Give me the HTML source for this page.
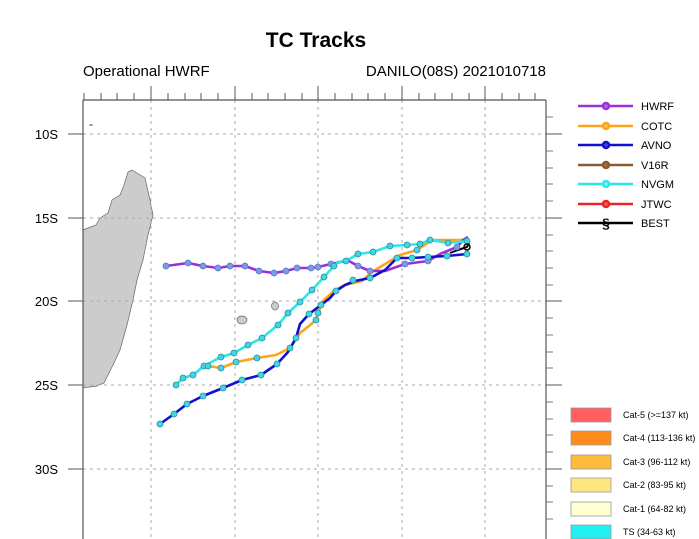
<!DOCTYPE html>
<html><head><style>
html,body{margin:0;padding:0;background:#fff;}
svg{display:block;font-family:"Liberation Sans",Arial,sans-serif;}
</style></head><body>
<svg width="699" height="539" viewBox="0 0 699 539" xmlns="http://www.w3.org/2000/svg">
<text x="316" y="47" font-size="21" font-weight="bold" text-anchor="middle">TC Tracks</text>
<text x="83" y="76" font-size="15">Operational HWRF</text>
<text x="546" y="76" font-size="15" text-anchor="end">DANILO(08S) 2021010718</text>
<!-- map land -->
<polygon fill="#cccccc" stroke="#666" stroke-width="0.7" points="83,230 88,228 96,225 100,218 108,213 112,200 120,195 124,185 128,172 132,170 145,178 150,200 153,215 148,235 143,260 137,280 133,300 127,325 120,350 113,365 104,383 97,386 83,388"/>
<ellipse cx="242" cy="320" rx="5" ry="4" fill="#ccc" stroke="#666" stroke-width="0.7"/>
<ellipse cx="275" cy="306" rx="3.5" ry="4" fill="#ccc" stroke="#666" stroke-width="0.7"/>
<ellipse cx="91" cy="125" rx="2" ry="1" fill="#999"/>
<!-- grid -->
<g stroke="#aaa" stroke-width="1" stroke-dasharray="3,4">
<line x1="151" y1="100" x2="151" y2="539"/><line x1="235" y1="100" x2="235" y2="539"/>
<line x1="318" y1="100" x2="318" y2="539"/><line x1="402" y1="100" x2="402" y2="539"/>
<line x1="485" y1="100" x2="485" y2="539"/>
<line x1="83" y1="134" x2="546" y2="134"/><line x1="83" y1="218" x2="546" y2="218"/>
<line x1="83" y1="301" x2="546" y2="301"/><line x1="83" y1="385" x2="546" y2="385"/>
<line x1="83" y1="469" x2="546" y2="469"/>
</g>
<!-- frame -->
<g stroke="#555" stroke-width="1.2" fill="none">
<line x1="83" y1="100" x2="546" y2="100"/>
<line x1="83" y1="100" x2="83" y2="539"/>
<line x1="546" y1="100" x2="546" y2="539"/>
</g>
<g stroke="#555" stroke-width="1">
<!-- top ticks -->
<line x1="151" y1="86" x2="151" y2="100"/><line x1="235" y1="86" x2="235" y2="100"/><line x1="318" y1="86" x2="318" y2="100"/><line x1="402" y1="86" x2="402" y2="100"/><line x1="485" y1="86" x2="485" y2="100"/>
<line x1="84" y1="93" x2="84" y2="100"/><line x1="101" y1="93" x2="101" y2="100"/><line x1="117" y1="93" x2="117" y2="100"/><line x1="134" y1="93" x2="134" y2="100"/>
<line x1="168" y1="93" x2="168" y2="100"/><line x1="185" y1="93" x2="185" y2="100"/><line x1="201" y1="93" x2="201" y2="100"/><line x1="218" y1="93" x2="218" y2="100"/>
<line x1="252" y1="93" x2="252" y2="100"/><line x1="268" y1="93" x2="268" y2="100"/><line x1="285" y1="93" x2="285" y2="100"/><line x1="302" y1="93" x2="302" y2="100"/>
<line x1="335" y1="93" x2="335" y2="100"/><line x1="352" y1="93" x2="352" y2="100"/><line x1="368" y1="93" x2="368" y2="100"/><line x1="385" y1="93" x2="385" y2="100"/>
<line x1="419" y1="93" x2="419" y2="100"/><line x1="435" y1="93" x2="435" y2="100"/><line x1="452" y1="93" x2="452" y2="100"/><line x1="469" y1="93" x2="469" y2="100"/>
<line x1="502" y1="93" x2="502" y2="100"/><line x1="519" y1="93" x2="519" y2="100"/><line x1="535" y1="93" x2="535" y2="100"/>
<!-- left/right major -->
<line x1="68" y1="134" x2="83" y2="134"/><line x1="68" y1="218" x2="83" y2="218"/><line x1="68" y1="301" x2="83" y2="301"/><line x1="68" y1="385" x2="83" y2="385"/><line x1="68" y1="469" x2="83" y2="469"/>
<line x1="546" y1="134" x2="562" y2="134"/><line x1="546" y1="218" x2="562" y2="218"/><line x1="546" y1="301" x2="562" y2="301"/><line x1="546" y1="385" x2="562" y2="385"/><line x1="546" y1="469" x2="562" y2="469"/>
</g>
<g stroke="#777" stroke-width="1">
<line x1="546" y1="117" x2="553" y2="117"/><line x1="546" y1="151" x2="553" y2="151"/><line x1="546" y1="168" x2="553" y2="168"/><line x1="546" y1="184" x2="553" y2="184"/><line x1="546" y1="201" x2="553" y2="201"/>
<line x1="546" y1="235" x2="553" y2="235"/><line x1="546" y1="251" x2="553" y2="251"/><line x1="546" y1="268" x2="553" y2="268"/><line x1="546" y1="285" x2="553" y2="285"/>
<line x1="546" y1="318" x2="553" y2="318"/><line x1="546" y1="335" x2="553" y2="335"/><line x1="546" y1="352" x2="553" y2="352"/><line x1="546" y1="368" x2="553" y2="368"/>
<line x1="546" y1="402" x2="553" y2="402"/><line x1="546" y1="419" x2="553" y2="419"/><line x1="546" y1="435" x2="553" y2="435"/><line x1="546" y1="452" x2="553" y2="452"/>
<line x1="546" y1="486" x2="553" y2="486"/><line x1="546" y1="502" x2="553" y2="502"/><line x1="546" y1="519" x2="553" y2="519"/>
</g>
<g font-size="13" text-anchor="end">
<text x="58" y="139">10S</text><text x="58" y="223">15S</text><text x="58" y="306">20S</text><text x="58" y="390">25S</text><text x="58" y="474">30S</text>
</g>
<!-- tracks -->
<g fill="none" stroke-width="2.6" stroke-linejoin="round">
<polyline stroke="#ffa31a" points="208,366 221,368 236,362 257,358 276,355 290,348 300,333 309,326 316,320 318,313 323,301 335,290 345,285 362,281 372,272 400,255 417,250 432,240 447,240 467,240"/>
<polyline stroke="#9b30d9" points="166,266 188,263 203,266 218,268 230,266 245,266 259,271 274,273 286,271 297,268 311,268 318,267 331,264 345,261 349,261 358,266 370,271 385,271 405,264 428,261 440,254 457,247 463,240 468,237"/>
<polyline stroke="#2ee6e6" points="176,385 183,378 193,375 204,366 221,357 234,353 248,345 262,338 278,325 288,313 300,302 312,290 324,277 334,266 338,262 346,261 358,254 373,252 390,246 407,245 420,244 430,240 448,243 467,241"/>
<polyline stroke="#1010d0" points="160,424 174,414 187,404 203,396 223,388 242,380 261,375 277,364 288,352 296,338 300,324 309,314 321,305 330,298 336,291 345,285 355,281 370,278 385,270 397,258 412,258 428,257 447,256 467,254"/>
<polyline stroke="#000" stroke-width="2" points="450,253 458,250 467,247 469,243"/>
</g>
<g fill="#7a9be0" stroke="#5577cc" stroke-width="0.8">
<circle cx="166" cy="266" r="3"/><circle cx="188" cy="263" r="3"/><circle cx="203" cy="266" r="3"/><circle cx="218" cy="268" r="3"/><circle cx="230" cy="266" r="3"/><circle cx="245" cy="266" r="3"/><circle cx="259" cy="271" r="3"/><circle cx="274" cy="273" r="3"/><circle cx="286" cy="271" r="3"/><circle cx="297" cy="268" r="3"/><circle cx="311" cy="268" r="3"/><circle cx="318" cy="267" r="3"/><circle cx="331" cy="264" r="3"/><circle cx="358" cy="266" r="3"/><circle cx="370" cy="271" r="3"/><circle cx="405" cy="264" r="3"/><circle cx="428" cy="261" r="3"/><circle cx="457" cy="247" r="3"/>
</g>
<g fill="#40d8e0" stroke="#2a8aa0" stroke-width="0.8">
<circle cx="160" cy="424" r="3"/><circle cx="174" cy="414" r="3"/><circle cx="187" cy="404" r="3"/><circle cx="203" cy="396" r="3"/><circle cx="223" cy="388" r="3"/><circle cx="242" cy="380" r="3"/><circle cx="261" cy="375" r="3"/><circle cx="277" cy="364" r="3"/><circle cx="296" cy="338" r="3"/><circle cx="309" cy="314" r="3"/><circle cx="321" cy="305" r="3"/><circle cx="336" cy="291" r="3"/><circle cx="353" cy="280" r="3"/><circle cx="370" cy="278" r="3"/><circle cx="397" cy="258" r="3"/><circle cx="412" cy="258" r="3"/><circle cx="428" cy="257" r="3"/><circle cx="447" cy="256" r="3"/><circle cx="467" cy="254" r="3"/>
<circle cx="176" cy="385" r="3"/><circle cx="183" cy="378" r="3"/><circle cx="193" cy="375" r="3"/><circle cx="204" cy="366" r="3"/><circle cx="221" cy="357" r="3"/><circle cx="234" cy="353" r="3"/><circle cx="248" cy="345" r="3"/><circle cx="262" cy="338" r="3"/><circle cx="278" cy="325" r="3"/><circle cx="288" cy="313" r="3"/><circle cx="300" cy="302" r="3"/><circle cx="312" cy="290" r="3"/><circle cx="324" cy="277" r="3"/><circle cx="334" cy="266" r="3"/><circle cx="346" cy="261" r="3"/><circle cx="358" cy="254" r="3"/><circle cx="373" cy="252" r="3"/><circle cx="390" cy="246" r="3"/><circle cx="407" cy="245" r="3"/><circle cx="420" cy="244" r="3"/><circle cx="430" cy="240" r="3"/><circle cx="448" cy="243" r="3"/><circle cx="467" cy="241" r="3"/>
<circle cx="208" cy="366" r="3"/><circle cx="221" cy="368" r="3"/><circle cx="236" cy="362" r="3"/><circle cx="257" cy="358" r="3"/><circle cx="290" cy="348" r="3"/><circle cx="316" cy="320" r="3"/><circle cx="318" cy="313" r="3"/><circle cx="417" cy="250" r="3"/>
</g>
<circle cx="467" cy="247" r="3" fill="none" stroke="#000" stroke-width="1.5"/>
<!-- legend -->
<g stroke-width="2.5">
<line x1="578" y1="106" x2="633" y2="106" stroke="#9b30d9"/><circle cx="606" cy="106" r="3" fill="#b36ae0" stroke="#9b30d9"/>
<line x1="578" y1="126" x2="633" y2="126" stroke="#ffa31a"/><circle cx="606" cy="126" r="3" fill="#ffc060" stroke="#ffa31a"/>
<line x1="578" y1="145" x2="633" y2="145" stroke="#1010d0"/><circle cx="606" cy="145" r="3" fill="#4a4ae0" stroke="#1010d0"/>
<line x1="578" y1="165" x2="633" y2="165" stroke="#8b5a2b"/><circle cx="606" cy="165" r="3" fill="#a07050" stroke="#8b5a2b"/>
<line x1="578" y1="184" x2="633" y2="184" stroke="#2ee6e6"/><circle cx="606" cy="184" r="3" fill="#80f0f0" stroke="#2ee6e6"/>
<line x1="578" y1="204" x2="633" y2="204" stroke="#ee2222"/><circle cx="606" cy="204" r="3" fill="#f06060" stroke="#ee2222"/>
<line x1="578" y1="223" x2="633" y2="223" stroke="#000"/>
</g>
<text x="606" y="228" font-size="14" text-anchor="middle" font-weight="bold">§</text>
<g font-size="11">
<text x="641" y="110">HWRF</text><text x="641" y="130">COTC</text><text x="641" y="149">AVNO</text><text x="641" y="169">V16R</text><text x="641" y="188">NVGM</text><text x="641" y="208">JTWC</text><text x="641" y="227">BEST</text>
</g>
<g stroke="#999" stroke-width="0.8">
<rect x="571" y="408" width="40" height="14" fill="#ff5f5f"/>
<rect x="571" y="431" width="40" height="14" fill="#ff8c1a"/>
<rect x="571" y="455" width="40" height="14" fill="#ffbb3b"/>
<rect x="571" y="478" width="40" height="14" fill="#ffe680"/>
<rect x="571" y="502" width="40" height="14" fill="#ffffd0"/>
<rect x="571" y="525" width="40" height="14" fill="#22f0f0"/>
</g>
<g font-size="9">
<text x="623" y="418">Cat-5 (&gt;=137 kt)</text>
<text x="623" y="441">Cat-4 (113-136 kt)</text>
<text x="623" y="465">Cat-3 (96-112 kt)</text>
<text x="623" y="488">Cat-2 (83-95 kt)</text>
<text x="623" y="512">Cat-1 (64-82 kt)</text>
<text x="623" y="535">TS (34-63 kt)</text>
</g>
</svg>
</body></html>
